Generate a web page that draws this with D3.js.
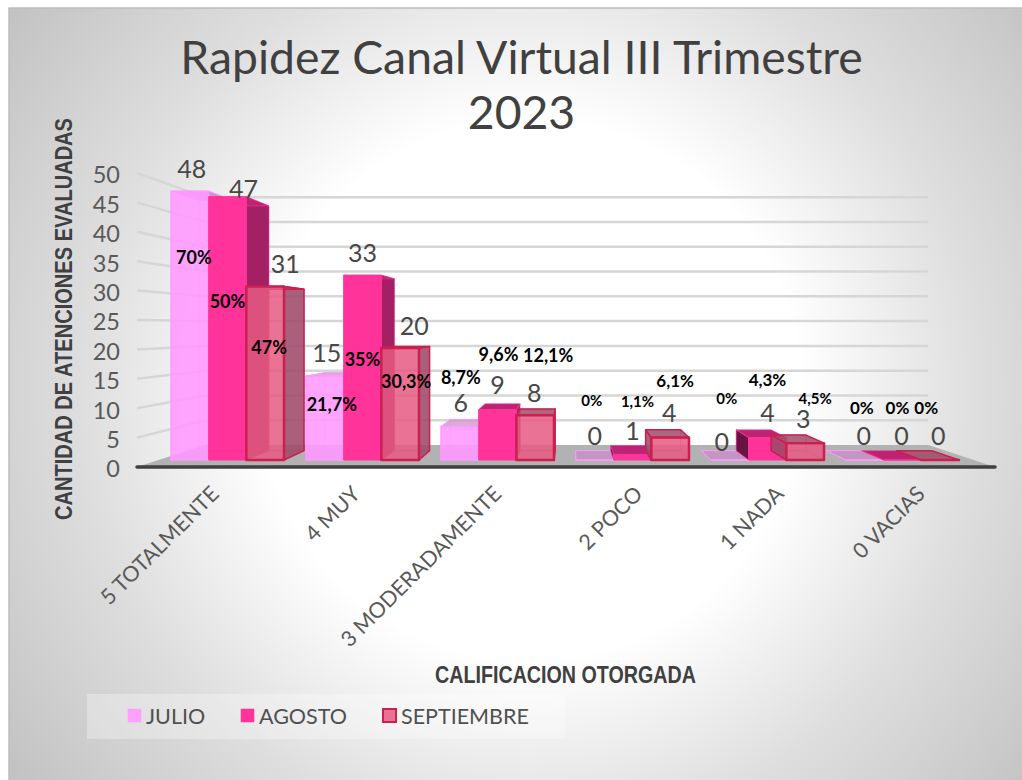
<!DOCTYPE html>
<html>
<head>
<meta charset="utf-8">
<script src="https://cdn.jsdelivr.net/npm/d3@7"></script>
<style>
  body { margin: 0; background: #fff; }
  text { font-family: "Lato", "Liberation Sans", sans-serif; }
</style>
</head>
<body>
<div id="chart"></div>
<script>
// Chart data
var categories = ["5 TOTALMENTE", "4 MUY", "3 MODERADAMENTE", "2 POCO", "1 NADA", "0 VACIAS"];
var seriesNames = ["JULIO", "AGOSTO", "SEPTIEMBRE"];
var julio = [48, 15, 6, 0, 0, 0];
var agosto = [47, 33, 9, 1, 4, 0];
var septiembre = [31, 20, 8, 4, 3, 0];
var julioPct = ["70%", "21,7%", "8,7%", "0%", "0%", "0%"];
var agostoPct = ["50%", "35%", "9,6%", "1,1%", "4,3%", "0%"];
var septiembrePct = ["47%", "30,3%", "12,1%", "6,1%", "4,5%", "0%"];
var yTicks = [0, 5, 10, 15, 20, 25, 30, 35, 40, 45, 50];

var allValues = [julio, agosto, septiembre];
var allPct = [julioPct, agostoPct, septiembrePct];

// Hand placed labels, offset from the top centre of each bar
var valueNudge = [
  [[2, -22], [2, -23], [1, -23], [0, -24], [-8, -18], [-1, -24]],
  [[16, -8], [0, -22], [0, -24], [0, -23], [0, -24], [-1, -24]],
  [[20, -22], [14, -22], [-1, -22], [-1, -24], [-2, -24], [-2, -24]]
];
var pctNudge = [
  [[4, 66], [7, 29], [1, -49], [-3, -59], [-3, -61], [-3, -52]],
  [[0, 105], [0, 84], [1, -55], [5, -53], [0, -58], [-5, -52]],
  [[4, 61], [6, 34], [13, -60], [5, -57], [10, -44], [-14, -52]]
];
// These labels were not all the same size in the original
var pctSize = [
  [18, 18, 18, 15, 15, 17],
  [18, 18, 18, 15, 17, 17],
  [18, 18, 18, 17, 15, 17]
];

var svgWidth = 1022;
var svgHeight = 780;

var svg = d3.select("#chart")
  .append("svg")
  .attr("width", svgWidth)
  .attr("height", svgHeight)
  .style("display", "block");

var defs = svg.append("defs");
var bgGrad = defs.append("radialGradient")
  .attr("id", "bgGrad")
  .attr("gradientUnits", "userSpaceOnUse")
  .attr("cx", 530).attr("cy", 390).attr("r", 640);
bgGrad.append("stop").attr("offset", "0%").attr("stop-color", "#ffffff");
bgGrad.append("stop").attr("offset", "42%").attr("stop-color", "#ffffff");
bgGrad.append("stop").attr("offset", "70%").attr("stop-color", "#dedede");
bgGrad.append("stop").attr("offset", "100%").attr("stop-color", "#c3c3c3");

svg.append("rect")
  .attr("x", 9).attr("y", 8)
  .attr("width", 1013).attr("height", 772)
  .attr("fill", "url(#bgGrad)");
svg.append("polyline")
  .attr("points", "9,780 9,8 1022,8")
  .attr("fill", "none")
  .attr("stroke", "#bdbdbd")
  .attr("stroke-width", 1.5);

// Perspective: everything shrinks towards one vanishing point
var vanish = [570, 327];
var wallDepth = 0.843;
var barDepth = 0.93;
function proj(x, y, s) {
  return [vanish[0] + (x - vanish[0]) * s, vanish[1] + (y - vanish[1]) * s];
}
function poly(points) {
  return points.map(function (p) { return p.join(","); }).join(" ");
}

var xBand = d3.scaleBand().domain(categories).range([171, 959]).paddingInner(0.163).paddingOuter(0);
var xSeries = d3.scaleBand().domain(seriesNames).range([0, xBand.bandwidth()]);
var xLabel = d3.scalePoint().domain(categories).range([214.5, 920.5]);
var yBar = d3.scaleLinear().domain([0, 50]).range([460, 180]);
var yWall = d3.scaleLinear().domain([0, 50]).range([467, 173]);
var floorX = d3.scaleLinear().domain([0, 1]).range([137, 995]);

// Title
var title = svg.append("text")
  .attr("text-anchor", "middle")
  .attr("fill", "#404040")
  .attr("font-size", 46.3);
title.append("tspan").attr("x", 521.5).attr("y", 74).text("Rapidez Canal Virtual III Trimestre");
title.append("tspan").attr("x", 521.5).attr("y", 129).text("2023");

// Floor
var floorG = svg.append("g");
floorG.append("polygon")
  .attr("points", poly([
    [floorX(0), yWall(0)], [floorX(1), yWall(0)],
    proj(floorX(1), yWall(0), wallDepth), proj(floorX(0), yWall(0), wallDepth)
  ]))
  .attr("fill", "#b2b2b2");

// Gridlines: side wall then back wall
var gridG = svg.append("g");
yTicks.filter(function (t) { return t > 0; }).forEach(function (t) {
  var a = [floorX(0), yWall(t)];
  var b = proj(a[0], a[1], wallDepth);
  var c = proj(floorX(1), yWall(t), wallDepth);
  gridG.append("polyline")
    .attr("points", poly([a, b, c]))
    .attr("fill", "none")
    .attr("stroke", "#d6d6d6")
    .attr("stroke-width", 2.5);
});

floorG.append("line")
  .attr("x1", floorX(0)).attr("x2", floorX(1))
  .attr("y1", yWall(0)).attr("y2", yWall(0))
  .attr("stroke", "#404040")
  .attr("stroke-width", 3.5)
  .attr("stroke-linecap", "round");

// Face colours per series
var faces = [
  { front: "#ff99ff", frontOp: 0.88, side: "#c77ac7", sideOp: 0.6, top: "#c78ac7", topOp: 0.7, stroke: "#ff99ff", sw: 1.5, inner: 0.6 },
  { front: "#ff3399", frontOp: 1, side: "#a32063", sideOp: 1, top: "#bb2473", topOp: 1, stroke: "#ff3399", sw: 1, inner: 0 },
  { front: "#e65b82", frontOp: 0.85, side: "#9e4a68", sideOp: 0.88, top: "#a04c68", topOp: 0.85, stroke: "#cc1f50", sw: 2.5, inner: 0.5 }
];

var barsG = svg.append("g");

function drawBar(g, x0, x1, y0, y1, f) {
  var a = [x0, y1], b = [x1, y1], c = [x1, y0], d = [x0, y0];
  var ba = proj(a[0], a[1], barDepth), bb = proj(b[0], b[1], barDepth);
  var bc = proj(c[0], c[1], barDepth), bd = proj(d[0], d[1], barDepth);
  function face(points, fill, op, sw) {
    g.append("polygon")
      .attr("points", poly(points))
      .attr("fill", fill)
      .attr("fill-opacity", op)
      .attr("stroke", f.stroke)
      .attr("stroke-width", sw)
      .attr("stroke-linejoin", "round");
  }
  // see-through bars also show their far edges
  if (f.inner > 0) {
    g.append("polygon")
      .attr("points", poly([ba, bb, bc, bd]))
      .attr("fill", "none")
      .attr("stroke", f.stroke)
      .attr("stroke-opacity", f.inner);
    g.append("line")
      .attr("x1", d[0]).attr("y1", d[1]).attr("x2", bd[0]).attr("y2", bd[1])
      .attr("stroke", f.stroke).attr("stroke-opacity", f.inner);
    g.append("line")
      .attr("x1", c[0]).attr("y1", c[1]).attr("x2", bc[0]).attr("y2", bc[1])
      .attr("stroke", f.stroke).attr("stroke-opacity", f.inner);
  }
  // the side that faces us depends on which way the vanishing point lies
  if (x1 < vanish[0]) {
    face([b, bb, bc, c], f.side, f.sideOp, f.sw * 0.6);
  } else if (x0 > vanish[0]) {
    face([a, ba, bd, d], f.side === "#a32063" ? "#6b1245" : f.side, f.sideOp, f.sw * 0.6);
  }
  face([a, b, bb, ba], f.top, f.topOp, f.sw * 0.6);
  face([a, b, c, d], f.front, f.frontOp, f.sw);
}

categories.forEach(function (cat, i) {
  allValues.forEach(function (vals, s) {
    var x0 = xBand(cat) + xSeries(seriesNames[s]);
    var x1 = x0 + xSeries.bandwidth();
    drawBar(barsG, x0, x1, yBar(0), yBar(vals[i]), faces[s]);
  });
});

// Value and percent labels
var labelG = svg.append("g");
categories.forEach(function (cat, i) {
  allValues.forEach(function (vals, s) {
    var cx = xBand(cat) + xSeries(seriesNames[s]) + xSeries.bandwidth() / 2;
    var top = yBar(vals[i]);
    labelG.append("text")
      .attr("x", cx + valueNudge[s][i][0])
      .attr("y", top + valueNudge[s][i][1])
      .attr("dy", "0.35em")
      .attr("text-anchor", "middle")
      .attr("font-size", 25)
      .attr("fill", "#484848")
      .text(vals[i]);
  });
});
categories.forEach(function (cat, i) {
  allPct.forEach(function (pcts, s) {
    var cx = xBand(cat) + xSeries(seriesNames[s]) + xSeries.bandwidth() / 2;
    var top = yBar(allValues[s][i]);
    labelG.append("text")
      .attr("x", cx + pctNudge[s][i][0])
      .attr("y", top + pctNudge[s][i][1])
      .attr("dy", "0.35em")
      .attr("text-anchor", "middle")
      .attr("font-size", pctSize[s][i])
      .attr("font-weight", "bold")
      .attr("fill", "#000")
      .text(pcts[i]);
  });
});

// Y axis
var yAxis = d3.axisLeft(yWall).tickValues(yTicks).tickSize(0).tickPadding(0);
svg.append("g")
  .attr("transform", "translate(120,0)")
  .call(yAxis)
  .call(function (g) { g.select(".domain").remove(); })
  .selectAll("text")
  .attr("font-size", 23.5)
  .attr("dy", "0.42em")
  .attr("fill", "#595959");

// X axis, labels turned 45 degrees
var xAxis = d3.axisBottom(xLabel).tickSize(0).tickPadding(0);
svg.append("g")
  .attr("transform", "translate(0,490)")
  .call(xAxis)
  .call(function (g) { g.select(".domain").remove(); })
  .selectAll("text")
  .attr("font-size", 21.5)
  .attr("fill", "#595959")
  .attr("text-anchor", "end")
  .attr("transform", "rotate(-45)")
  .attr("dy", "0.35em")
  .attr("y", 0);

// Axis titles
svg.append("text")
  .attr("transform", "translate(64,319) rotate(-90)")
  .attr("text-anchor", "middle")
  .attr("dy", "0.35em")
  .attr("font-size", 23)
  .attr("font-weight", "bold")
  .attr("textLength", 402)
  .attr("lengthAdjust", "spacingAndGlyphs")
  .style("font-family", "'Liberation Sans'")
  .attr("fill", "#404040")
  .text("CANTIDAD DE ATENCIONES EVALUADAS");

svg.append("text")
  .attr("x", 565.5).attr("y", 675)
  .attr("text-anchor", "middle")
  .attr("dy", "0.35em")
  .attr("font-size", 23)
  .attr("font-weight", "bold")
  .attr("textLength", 261)
  .attr("lengthAdjust", "spacingAndGlyphs")
  .style("font-family", "'Liberation Sans'")
  .attr("fill", "#404040")
  .text("CALIFICACION OTORGADA");

// Legend
var legendX = d3.scaleOrdinal().domain(seriesNames).range([128, 241, 383]);
var legend = svg.append("g");
legend.append("rect")
  .attr("x", 87).attr("y", 694)
  .attr("width", 478).attr("height", 45)
  .attr("fill", "#ffffff").attr("fill-opacity", 0.3);
seriesNames.forEach(function (name, s) {
  legend.append("rect")
    .attr("x", legendX(name)).attr("y", 709)
    .attr("width", 13).attr("height", 13)
    .attr("fill", faces[s].front)
    .attr("fill-opacity", faces[s].frontOp)
    .attr("stroke", faces[s].stroke)
    .attr("stroke-width", s == 2 ? 2 : 0.5);
  legend.append("text")
    .attr("x", legendX(name) + 18).attr("y", 716)
    .attr("dy", "0.35em")
    .attr("font-size", 21.5)
    .attr("fill", "#505050")
    .text(name);
});
</script>
</body>
</html>
